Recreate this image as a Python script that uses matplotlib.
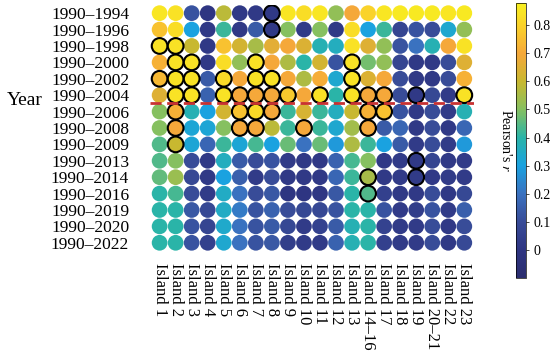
import numpy as np
import matplotlib
matplotlib.use("Agg")
import matplotlib.pyplot as plt
from matplotlib.colors import LinearSegmentedColormap, Normalize

plt.rcParams['font.family'] = ['Liberation Serif', 'DejaVu Serif']
plt.rcParams['mathtext.fontset'] = 'stix'

years = ["1990\u20131994", "1990\u20131996", "1990\u20131998", "1990\u20132000",
         "1990\u20132002", "1990\u20132004", "1990\u20132006", "1990\u20132008",
         "1990\u20132009", "1990\u20132013", "1990\u20132014", "1990\u20132016",
         "1990\u20132019", "1990\u20132020", "1990\u20132022"]
islands = ["Island 1", "Island 2", "Island 3", "Island 4", "Island 5", "Island 6",
           "Island 7", "Island 8", "Island 9", "Island 10", "Island 11", "Island 12",
           "Island 13", "Island 14\u201316", "Island 17", "Island 18", "Island 19",
           "Island 20\u201321", "Island 22", "Island 23"]

# Pearson's r per year range (rows) and island (columns)
r = np.array([
    [0.85, 0.84, 0.12, 0.00, 0.58, 0.02, 0.02, 0.02, 0.85, 0.83, 0.85, 0.52, 0.70, 0.80, 0.85, 0.86, 0.86, 0.86, 0.85, 0.86],
    [0.76, 0.83, 0.30, 0.02, 0.42, 0.02, 0.14, 0.02, 0.50, 0.03, 0.50, 0.02, 0.83, 0.30, 0.42, 0.07, 0.12, 0.10, 0.33, 0.52],
    [0.84, 0.84, 0.60, 0.02, 0.76, 0.62, 0.55, 0.66, 0.70, 0.64, 0.38, 0.36, 0.84, 0.65, 0.52, 0.12, 0.20, 0.38, 0.70, 0.84],
    [0.72, 0.84, 0.84, 0.02, 0.83, 0.52, 0.84, 0.70, 0.56, 0.40, 0.62, 0.12, 0.84, 0.48, 0.52, 0.07, 0.02, 0.02, 0.10, 0.65],
    [0.74, 0.84, 0.84, 0.14, 0.82, 0.70, 0.84, 0.84, 0.70, 0.56, 0.71, 0.33, 0.84, 0.64, 0.70, 0.10, 0.02, 0.02, 0.10, 0.72],
    [0.65, 0.84, 0.84, 0.16, 0.84, 0.70, 0.70, 0.70, 0.78, 0.70, 0.84, 0.40, 0.84, 0.70, 0.70, 0.10, 0.02, 0.08, 0.03, 0.84],
    [0.50, 0.72, 0.38, 0.30, 0.62, 0.76, 0.82, 0.70, 0.42, 0.63, 0.42, 0.36, 0.60, 0.72, 0.76, 0.12, 0.02, 0.10, 0.03, 0.38],
    [0.50, 0.70, 0.32, 0.32, 0.50, 0.70, 0.70, 0.58, 0.42, 0.70, 0.42, 0.33, 0.54, 0.70, 0.14, 0.17, 0.02, 0.10, 0.02, 0.17],
    [0.44, 0.60, 0.32, 0.17, 0.42, 0.32, 0.43, 0.30, 0.47, 0.20, 0.47, 0.28, 0.56, 0.42, 0.30, 0.14, 0.03, 0.10, 0.03, 0.28],
    [0.44, 0.50, 0.10, 0.02, 0.36, 0.14, 0.10, 0.12, 0.03, 0.02, 0.02, 0.16, 0.43, 0.50, 0.02, 0.03, 0.02, 0.07, 0.02, 0.03],
    [0.46, 0.53, 0.08, 0.02, 0.30, 0.15, 0.03, 0.10, 0.02, 0.02, 0.02, 0.17, 0.42, 0.55, 0.02, 0.03, 0.03, 0.02, 0.03, 0.03],
    [0.40, 0.43, 0.10, 0.03, 0.35, 0.20, 0.10, 0.13, 0.00, 0.00, 0.01, 0.13, 0.40, 0.44, 0.05, 0.02, 0.02, 0.10, 0.02, 0.08],
    [0.40, 0.40, 0.13, 0.08, 0.35, 0.22, 0.12, 0.16, 0.10, 0.08, 0.08, 0.12, 0.40, 0.40, 0.12, 0.03, 0.04, 0.12, 0.03, 0.15],
    [0.40, 0.40, 0.12, 0.07, 0.34, 0.20, 0.12, 0.14, 0.08, 0.03, 0.06, 0.14, 0.38, 0.40, 0.06, 0.03, 0.03, 0.10, 0.02, 0.10],
    [0.40, 0.40, 0.12, 0.05, 0.33, 0.20, 0.12, 0.13, 0.04, 0.03, 0.03, 0.16, 0.38, 0.40, 0.05, 0.03, 0.03, 0.10, 0.02, 0.09],
])

# significant cells (row, column) drawn with black outline
sig = [(0, 7), (1, 7), (2, 0), (2, 1),
       (3, 1), (3, 2), (3, 6), (3, 12),
       (4, 0), (4, 1), (4, 2), (4, 4), (4, 6), (4, 7), (4, 12),
       (5, 1), (5, 2), (5, 4), (5, 5), (5, 6), (5, 7), (5, 8), (5, 10),
       (5, 12), (5, 13), (5, 14), (5, 16), (5, 19),
       (6, 1), (6, 5), (6, 6), (6, 7), (6, 13), (6, 14),
       (7, 1), (7, 5), (7, 6), (7, 9), (7, 13),
       (8, 1), (9, 16), (10, 13), (10, 16), (11, 13)]

vmin, vmax = -0.1, 0.88
anchors = [(-0.10, "#2b2d6e"), (0.00, "#2e3582"), (0.10, "#384c98"),
           (0.20, "#3a72c0"), (0.30, "#1aa2e0"), (0.40, "#2ab4a8"),
           (0.50, "#86c060"), (0.60, "#c8b830"), (0.70, "#f5a83a"),
           (0.80, "#fad22a"), (0.88, "#f8f020")]
cmap = LinearSegmentedColormap.from_list(
    "parula_like", [((v - vmin) / (vmax - vmin), c) for v, c in anchors])
norm = Normalize(vmin, vmax)

fig = plt.figure(figsize=(5.5, 3.54), dpi=100)
ax = fig.add_axes([0.2727, 0.291, 0.589, 0.695])

xx, yy = np.meshgrid(np.arange(len(islands)), np.arange(len(years)))
ax.scatter(xx.ravel(), yy.ravel(), c=r.ravel(), cmap=cmap, norm=norm,
           s=128, linewidths=0)
rows = [p[0] for p in sig]
cols = [p[1] for p in sig]
ax.scatter(cols, rows, c=r[rows, cols], cmap=cmap, norm=norm,
           s=128, edgecolors='black', linewidths=1.5)

# split between 1990-2004 and 1990-2006
ax.axhline(5.5, color='#c83232', lw=2, ls=(0, (4, 2)))

ax.set_xlim(-0.6, len(islands) - 0.4)
ax.set_ylim(len(years) - 0.5, -0.5)
ax.set_xticks(range(len(islands)))
ax.set_xticklabels(islands, rotation=-90, fontsize=12)
ax.set_yticks(range(len(years)))
ax.set_yticklabels(years, fontsize=12.5)
ax.tick_params(length=0)
ax.tick_params(axis='y', pad=15)
ax.tick_params(axis='x', pad=9)
for s in ax.spines.values():
    s.set_visible(False)
fig.text(0.013, 0.715, "Year", fontsize=14, va='center')

cax = fig.add_axes([0.938, 0.215, 0.018, 0.777])
sm = plt.cm.ScalarMappable(norm=norm, cmap=cmap)
cb = fig.colorbar(sm, cax=cax, ticks=np.arange(0, 0.81, 0.1))
cb.ax.set_yticklabels(["0", "0.1", "0.2", "0.3", "0.4", "0.5", "0.6", "0.7", "0.8"])
cb.ax.tick_params(labelsize=10, length=2, width=0.5)
cb.outline.set_linewidth(0.5)
cb.ax.yaxis.set_label_position('left')
cb.set_label("Pearson's $\\it{r}$", rotation=270, fontsize=10, labelpad=12)

fig.savefig("out.png", dpi=100)
